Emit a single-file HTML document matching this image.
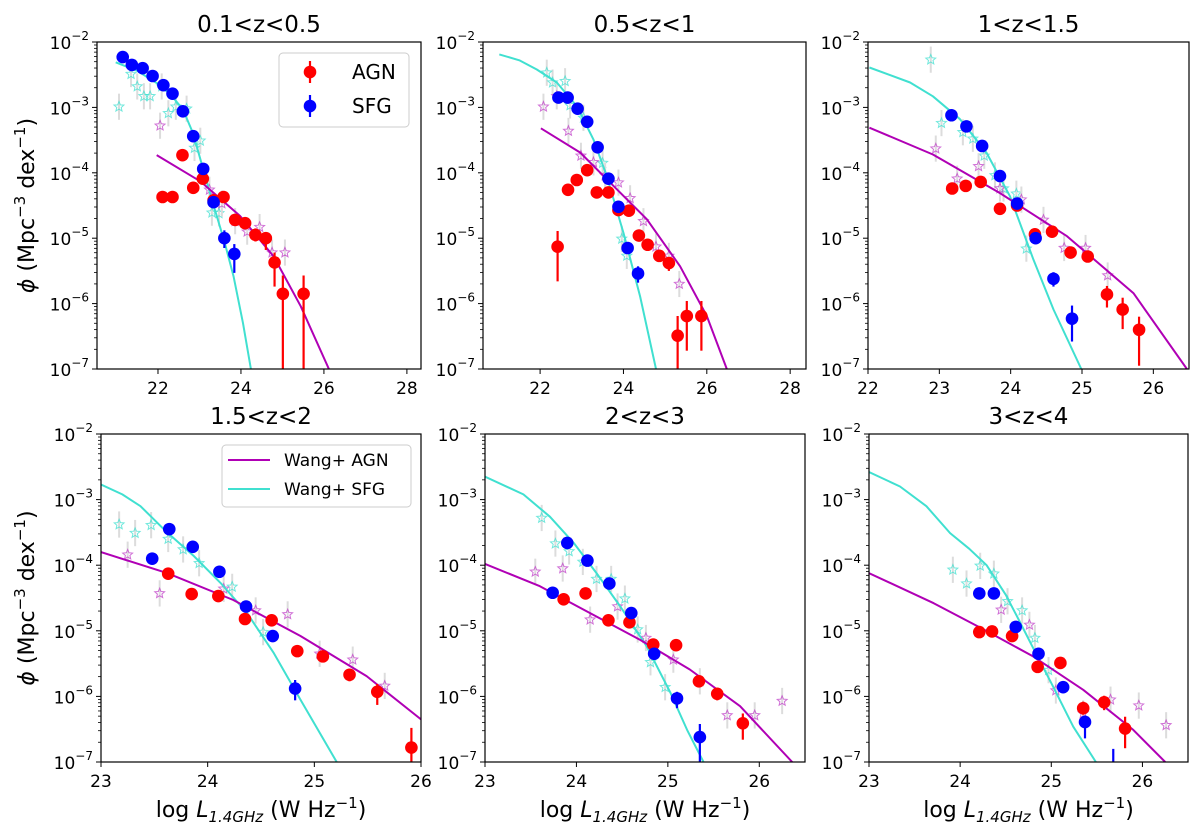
<!DOCTYPE html>
<html><head><meta charset="utf-8"><style>
html,body{margin:0;padding:0;background:#fff;}
svg{display:block;font-family:"DejaVu Sans","Liberation Sans",sans-serif;}
</style></head><body>
<svg id="fig" width="1200" height="837" viewBox="0 0 1200 837" xmlns="http://www.w3.org/2000/svg"></svg>
<script>
// ---- Data (log10 L, log10 phi) ----
const p1SfgX=[21.15,21.37,21.63,21.87,22.13,22.35,22.6,22.85,23.09,23.34,23.6,23.84];
const p1SfgY=[-2.23,-2.35,-2.40,-2.52,-2.66,-2.79,-3.06,-3.44,-3.94,-4.45,-5.0,-5.24];
const p1SfgLo=[0.05,0.05,0.05,0.05,0.05,0.05,0.05,0.05,0.05,0.05,0.15,0.29];
const p1SfgHi=[0.05,0.05,0.05,0.05,0.05,0.05,0.05,0.05,0.05,0.05,0.12,0.15];
const p1AgnX=[22.11,22.35,22.59,22.85,23.08,23.34,23.58,23.86,24.1,24.35,24.6,24.81,25.01,25.51];
const p1AgnY=[-4.37,-4.37,-3.73,-4.23,-4.09,-4.42,-4.37,-4.72,-4.77,-4.95,-5.0,-5.37,-5.85,-5.85];
const p1AgnLo=[0.06,0.05,0.05,0.05,0.05,0.05,0.05,0.08,0.05,0.1,0.18,0.37,3,3];
const p1AgnHi=[0.05,0.05,0.05,0.05,0.05,0.05,0.05,0.08,0.05,0.1,0.08,0.15,0.28,0.28];
const p1WsX=[21.06,21.35,21.5,21.66,21.81,22.09,22.25,22.43,22.69,22.88,23.02,23.3,23.47];
const p1WsY=[-2.99,-2.49,-2.68,-2.83,-2.83,-2.68,-3.09,-2.99,-3.02,-3.62,-3.51,-4.61,-4.62];
const p1WaX=[22.05,23.24,23.54,23.86,24.15,24.45,24.75,25.06];
const p1WaY=[-3.28,-4.26,-4.47,-4.74,-4.9,-4.83,-5.22,-5.22];
const p1SfgLineX=[20.98,21.5,22.0,22.3,22.6,22.85,23.1,23.34,23.6,23.82,24.05,24.24];
const p1SfgLineY=[-2.31,-2.44,-2.64,-2.8,-3.03,-3.4,-3.97,-4.5,-5.05,-5.58,-6.3,-7.0];
const p1AgnLineX=[21.97,23.02,23.98,24.79,25.44,26.12];
const p1AgnLineY=[-3.73,-4.13,-4.66,-5.28,-6.04,-7.0];

const p2SfgX=[22.44,22.66,22.9,23.13,23.38,23.64,23.88,24.1,24.35];
const p2SfgY=[-2.85,-2.85,-3.02,-3.22,-3.61,-4.09,-4.52,-5.15,-5.54];
const p2SfgLo=[0.05,0.05,0.05,0.05,0.05,0.05,0.05,0.05,0.14];
const p2SfgHi=[0.05,0.05,0.05,0.05,0.05,0.05,0.05,0.05,0.11];
const p2AgnX=[22.42,22.67,22.88,23.13,23.36,23.64,23.88,24.13,24.37,24.58,24.86,25.09,25.3,25.52,25.87];
const p2AgnY=[-5.13,-4.26,-4.11,-3.96,-4.30,-4.30,-4.57,-4.58,-4.96,-5.10,-5.27,-5.38,-6.49,-6.19,-6.19];
const p2AgnLo=[0.53,0.05,0.05,0.05,0.05,0.05,0.05,0.05,0.05,0.05,0.08,0.12,3,0.53,0.53];
const p2AgnHi=[0.24,0.05,0.05,0.05,0.05,0.05,0.05,0.05,0.05,0.05,0.05,0.05,0.3,0.23,0.23];
const p2WsX=[22.16,22.3,22.6,22.72,23.04,23.5,23.96,24.08];
const p2WsY=[-2.47,-2.62,-2.60,-2.97,-3.16,-3.85,-5.01,-5.27];
const p2WaX=[22.08,22.4,22.68,22.98,23.28,23.56,23.88,24.16,24.48,24.78,25.09,25.34];
const p2WaY=[-2.99,-2.83,-3.36,-3.74,-3.84,-4.04,-4.15,-4.39,-4.74,-5.13,-5.27,-5.70];
const p2SfgLineX=[21.02,21.5,21.92,22.4,22.88,23.28,23.6,24.0,24.4,24.78];
const p2SfgLineY=[-2.19,-2.28,-2.42,-2.62,-2.98,-3.49,-4.05,-4.92,-5.89,-7.0];
const p2AgnLineX=[22.02,22.96,23.76,24.56,25.36,26.0,26.48];
const p2AgnLineY=[-3.32,-3.69,-4.2,-4.71,-5.43,-6.19,-7.0];

const p3SfgX=[23.17,23.38,23.6,23.85,24.09,24.35,24.6,24.86];
const p3SfgY=[-3.12,-3.29,-3.59,-4.05,-4.47,-5.0,-5.62,-6.23];
const p3SfgLo=[0.05,0.05,0.05,0.05,0.05,0.05,0.12,0.35];
const p3SfgHi=[0.05,0.05,0.05,0.05,0.05,0.05,0.1,0.2];
const p3AgnX=[23.18,23.37,23.58,23.85,24.09,24.34,24.58,24.84,25.08,25.35,25.57,25.8];
const p3AgnY=[-4.24,-4.20,-4.14,-4.55,-4.50,-4.94,-4.90,-5.22,-5.28,-5.86,-6.09,-6.40];
const p3AgnLo=[0.05,0.05,0.05,0.05,0.05,0.05,0.05,0.05,0.05,0.2,0.3,0.55];
const p3AgnHi=[0.05,0.05,0.05,0.05,0.05,0.05,0.05,0.05,0.05,0.13,0.18,0.2];
const p3WsX=[22.88,23.03,23.33,23.47,23.63,23.78,23.9,24.08,24.22];
const p3WsY=[-2.27,-3.24,-3.38,-3.48,-3.74,-4.04,-4.24,-4.32,-5.16];
const p3WaX=[22.95,23.25,23.55,23.85,24.15,24.46,24.75,25.05,25.36];
const p3WaY=[-3.63,-4.09,-3.9,-4.24,-4.41,-4.72,-5.15,-5.15,-5.57];
const p3SfgLineX=[22.02,22.59,22.91,23.29,23.66,23.99,24.32,24.6,24.99];
const p3SfgLineY=[-2.39,-2.62,-2.83,-3.18,-3.69,-4.36,-5.33,-6.09,-7.0];
const p3AgnLineX=[22.02,22.91,23.85,24.79,25.72,26.47];
const p3AgnLineY=[-3.31,-3.72,-4.31,-4.97,-5.84,-7.0];

const p4SfgX=[23.48,23.64,23.86,24.11,24.36,24.61,24.82];
const p4SfgY=[-3.9,-3.45,-3.72,-4.10,-4.63,-5.08,-5.88];
const p4SfgLo=[0.05,0.05,0.05,0.05,0.05,0.05,0.18];
const p4SfgHi=[0.05,0.05,0.05,0.05,0.05,0.05,0.13];
const p4AgnX=[23.63,23.85,24.1,24.35,24.6,24.84,25.08,25.33,25.59,25.91];
const p4AgnY=[-4.13,-4.44,-4.47,-4.82,-4.84,-5.31,-5.39,-5.67,-5.93,-6.78];
const p4AgnLo=[0.05,0.05,0.05,0.05,0.05,0.05,0.05,0.1,0.2,0.22];
const p4AgnHi=[0.05,0.05,0.05,0.05,0.05,0.05,0.05,0.05,0.12,0.3];
const p4WsX=[23.17,23.32,23.47,23.63,23.77,23.92,24.23,24.52];
const p4WsY=[-3.38,-3.51,-3.39,-3.6,-3.76,-3.97,-4.33,-5.02];
const p4WaX=[23.25,23.55,24.15,24.45,24.75,25.05,25.36,25.66];
const p4WaY=[-3.84,-4.43,-4.36,-4.69,-4.75,-5.35,-5.44,-5.84];
const p4SfgLineX=[23.0,23.2,23.37,23.62,23.87,24.12,24.37,24.62,24.87,25.21];
const p4SfgLineY=[-2.77,-2.92,-3.1,-3.5,-3.86,-4.27,-4.73,-5.34,-6.05,-7.0];
const p4AgnLineX=[23.0,23.62,24.24,24.87,25.49,26.0];
const p4AgnLineY=[-3.8,-4.12,-4.53,-5.08,-5.69,-6.35];

const p5SfgX=[23.74,23.9,24.12,24.36,24.6,24.85,25.1,25.35];
const p5SfgY=[-4.42,-3.66,-3.93,-4.28,-4.73,-5.35,-6.03,-6.62];
const p5SfgLo=[0.07,0.05,0.05,0.05,0.05,0.05,0.15,1.0];
const p5SfgHi=[0.05,0.05,0.05,0.05,0.05,0.05,0.1,0.2];
const p5AgnX=[23.86,24.1,24.35,24.58,24.84,25.09,25.34,25.54,25.82];
const p5AgnY=[-4.52,-4.43,-4.84,-4.87,-5.21,-5.22,-5.77,-5.96,-6.41];
const p5AgnLo=[0.05,0.05,0.05,0.05,0.05,0.05,0.05,0.1,0.25];
const p5AgnHi=[0.05,0.05,0.05,0.05,0.05,0.05,0.05,0.08,0.15];
const p5WsX=[23.62,23.77,23.92,24.07,24.22,24.38,24.53,24.67,24.81,24.97];
const p5WsY=[-3.28,-3.67,-3.79,-3.95,-4.21,-4.21,-4.51,-4.98,-5.48,-5.86];
const p5WaX=[23.55,23.85,24.15,24.45,24.76,25.06,25.35,25.65,25.95,26.25];
const p5WaY=[-4.1,-4.05,-4.83,-4.63,-5.11,-5.44,-5.77,-6.29,-6.29,-6.07];
const p5SfgLineX=[23.0,23.42,23.71,23.97,24.22,24.48,24.77,25.03,25.21,25.39];
const p5SfgLineY=[-2.65,-2.92,-3.26,-3.66,-4.12,-4.63,-5.24,-5.95,-6.51,-7.0];
const p5AgnLineX=[23.0,23.6,24.15,24.7,25.24,25.79,26.36];
const p5AgnLineY=[-3.98,-4.32,-4.73,-5.14,-5.59,-6.15,-7.0];

const p6SfgX=[24.21,24.37,24.61,24.86,25.13,25.37,25.68];
const p6SfgY=[-4.43,-4.43,-4.94,-5.35,-5.86,-6.39,-7.3];
const p6SfgLo=[0.05,0.05,0.05,0.05,0.05,0.25,0.1];
const p6SfgHi=[0.05,0.05,0.05,0.05,0.05,0.1,0.5];
const p6AgnX=[24.21,24.35,24.57,24.85,25.1,25.35,25.58,25.81];
const p6AgnY=[-5.02,-5.01,-5.08,-5.55,-5.49,-6.18,-6.09,-6.49];
const p6AgnLo=[0.05,0.05,0.05,0.05,0.05,0.1,0.12,0.3];
const p6AgnHi=[0.05,0.05,0.05,0.05,0.05,0.1,0.1,0.18];
const p6WsX=[23.92,24.07,24.22,24.37,24.52,24.68,24.82,24.97];
const p6WsY=[-4.07,-4.28,-4.01,-4.13,-4.55,-4.69,-5.11,-5.6];
const p6WaX=[24.45,24.76,25.05,25.35,25.65,25.96,26.26];
const p6WaY=[-4.68,-4.91,-5.91,-6.26,-6.05,-6.14,-6.44];
const p6SfgLineX=[23.0,23.34,23.63,23.89,24.1,24.29,24.5,24.65,24.8,25.02,25.24,25.49];
const p6SfgLineY=[-2.58,-2.8,-3.1,-3.51,-3.75,-4.0,-4.45,-4.85,-5.26,-5.85,-6.46,-7.0];
const p6AgnLineX=[23.0,23.71,24.26,24.8,25.35,25.9,26.25];
const p6AgnLineY=[-4.12,-4.58,-4.98,-5.39,-5.9,-6.51,-7.0];

const starErr=0.2;
const titles=["0.1<z<0.5","0.5<z<1","1<z<1.5","1.5<z<2","2<z<3","3<z<4"];
const xTicks1=[22,24,26,28], xTicks3=[22,23,24,25,26], xTicksB=[23,24,25,26];
const yTicks=[-2,-3,-4,-5,-6,-7];

// ---- Layout ----
const NS="http://www.w3.org/2000/svg";
const fig=document.getElementById('fig');
function mk(tag,attrs,parent){const e=document.createElementNS(NS,tag);for(const k in attrs)e.setAttribute(k,attrs[k]);(parent||fig).appendChild(e);return e;}

const panels=[
 {l:97,r:421,t:42,b:369,x0:20.53,x1:28.34,ticks:xTicks1,d:[p1SfgX,p1SfgY,p1SfgLo,p1SfgHi,p1AgnX,p1AgnY,p1AgnLo,p1AgnHi,p1WsX,p1WsY,p1WaX,p1WaY,p1SfgLineX,p1SfgLineY,p1AgnLineX,p1AgnLineY],ylab:true},
 {l:483,r:806,t:42,b:369,x0:20.63,x1:28.38,ticks:xTicks1,d:[p2SfgX,p2SfgY,p2SfgLo,p2SfgHi,p2AgnX,p2AgnY,p2AgnLo,p2AgnHi,p2WsX,p2WsY,p2WaX,p2WaY,p2SfgLineX,p2SfgLineY,p2AgnLineX,p2AgnLineY]},
 {l:868,r:1189,t:42,b:369,x0:22,x1:26.5,ticks:xTicks3,d:[p3SfgX,p3SfgY,p3SfgLo,p3SfgHi,p3AgnX,p3AgnY,p3AgnLo,p3AgnHi,p3WsX,p3WsY,p3WaX,p3WaY,p3SfgLineX,p3SfgLineY,p3AgnLineX,p3AgnLineY]},
 {l:101,r:421,t:434,b:762,x0:23,x1:26,ticks:xTicksB,d:[p4SfgX,p4SfgY,p4SfgLo,p4SfgHi,p4AgnX,p4AgnY,p4AgnLo,p4AgnHi,p4WsX,p4WsY,p4WaX,p4WaY,p4SfgLineX,p4SfgLineY,p4AgnLineX,p4AgnLineY],ylab:true,xlab:true},
 {l:485,r:805,t:434,b:762,x0:23,x1:26.5,ticks:xTicksB,d:[p5SfgX,p5SfgY,p5SfgLo,p5SfgHi,p5AgnX,p5AgnY,p5AgnLo,p5AgnHi,p5WsX,p5WsY,p5WaX,p5WaY,p5SfgLineX,p5SfgLineY,p5AgnLineX,p5AgnLineY],xlab:true},
 {l:869,r:1188,t:434,b:762,x0:23,x1:26.5,ticks:xTicksB,d:[p6SfgX,p6SfgY,p6SfgLo,p6SfgHi,p6AgnX,p6AgnY,p6AgnLo,p6AgnHi,p6WsX,p6WsY,p6WaX,p6WaY,p6SfgLineX,p6SfgLineY,p6AgnLineX,p6AgnLineY],xlab:true}
];

function starPath(cx,cy,R){const r=R*0.45;let s='';for(let i=0;i<10;i++){const a=-Math.PI/2+i*Math.PI/5;const rr=i%2?r:R;s+=(i?'L':'M')+(cx+rr*Math.cos(a)).toFixed(1)+','+(cy+rr*Math.sin(a)).toFixed(1);}return s+'Z';}

panels.forEach((p,pi)=>{
 const g=mk('g',{});
 
 
 const X=v=>p.l+(v-p.x0)/(p.x1-p.x0)*(p.r-p.l);
 const Y=v=>p.t+(-2-v)/5*(p.b-p.t);
 const cid='clip'+pi;
 const cp=mk('clipPath',{id:cid},g);mk('rect',{x:p.l,y:p.t,width:p.r-p.l,height:p.b-p.t},cp);
 const plot=mk('g',{'clip-path':'url(#'+cid+')'},g);
 
 
 const [sx,sy,slo,shi,ax,ay,alo,ahi,wsx,wsy,wax,way,slx,sly,alx,aly]=p.d;
 const drawStars=(xs,ys,col,name)=>{xs.forEach((x,i)=>{
   const e=mk('line',{x1:X(x),x2:X(x),y1:Y(ys[i]+starErr),y2:Y(ys[i]-starErr),stroke:'#dcdcdc','stroke-width':2},plot);
   });
  xs.forEach((x,i)=>{const s=mk('path',{d:starPath(X(x),Y(ys[i]),5.2),fill:'none',stroke:col,'stroke-width':1,opacity:0.75},plot);
   });};
 drawStars(wsx,wsy,'#40e0d0','wang-sfg-star');
 drawStars(wax,way,'#c040c8','wang-agn-star');
 const line=(xs,ys,col,name)=>{const l=mk('polyline',{points:xs.map((x,i)=>X(x).toFixed(1)+','+Y(ys[i]).toFixed(1)).join(' '),fill:'none',stroke:col,'stroke-width':2,'stroke-linejoin':'round'},plot);
  };
 line(slx,sly,'#40e0d0','wang-sfg-model-line');
 line(alx,aly,'#b000b5','wang-agn-model-line');
 const pts=(xs,ys,lo,hi,col,name)=>{xs.forEach((x,i)=>{
   const e=mk('line',{x1:X(x),x2:X(x),y1:Y(ys[i]+hi[i]),y2:Y(ys[i]-lo[i]),stroke:col,'stroke-width':2.2},plot);
   
   const c=mk('circle',{cx:X(x),cy:Y(ys[i]),r:6.3,fill:col},plot);
   });};
 pts(ax,ay,alo,ahi,'#ff0000','agn');
 pts(sx,sy,slo,shi,'#0000ff','sfg');
 const fr=mk('rect',{x:p.l,y:p.t,width:p.r-p.l,height:p.b-p.t,fill:'none',stroke:'#000','stroke-width':1.2},g);
 
 yTicks.forEach(v=>{const y=Y(v);mk('line',{x1:p.l-5,x2:p.l,y1:y,y2:y,stroke:'#000','stroke-width':1},g);
  const t=mk('text',{x:p.l-8,y:y+7,'text-anchor':'end','font-size':17},g);
  
  t.appendChild(document.createTextNode('10'));const s=mk('tspan',{'font-size':12,dy:-9},t);s.textContent='−'+(-v);
  if(v>-7){for(let m=2;m<10;m++){const ym=Y(v-1+Math.log10(m));mk('line',{x1:p.l-3,x2:p.l,y1:ym,y2:ym,stroke:'#000','stroke-width':0.8},g);}}});
 p.ticks.forEach(v=>{const x=X(v);mk('line',{x1:x,x2:x,y1:p.b,y2:p.b+5,stroke:'#000','stroke-width':1},g);
  const t=mk('text',{x:x,y:p.b+25,'text-anchor':'middle','font-size':17},g);t.textContent=v;
  });
 const tt=mk('text',{x:(p.l+p.r)/2,y:p.t-10,'text-anchor':'middle','font-size':23},g);tt.textContent=titles[pi];
 
 if(p.ylab){const yl=mk('text',{transform:'translate(34,'+((p.t+p.b)/2)+') rotate(-90)','text-anchor':'middle','font-size':22},g);
  
  const a=mk('tspan',{'font-style':'italic'},yl);a.textContent='ϕ';
  const b=mk('tspan',{},yl);b.textContent=' (Mpc';const c=mk('tspan',{'font-size':15,dy:-9},yl);c.textContent='−3';
  const d=mk('tspan',{dy:9},yl);d.textContent=' dex';const e=mk('tspan',{'font-size':15,dy:-9},yl);e.textContent='−1';
  const f=mk('tspan',{dy:9},yl);f.textContent=')';}
 if(p.xlab){const xl=mk('text',{x:(p.l+p.r)/2,y:817,'text-anchor':'middle','font-size':22},g);
  
  const a=mk('tspan',{},xl);a.textContent='log ';const b=mk('tspan',{'font-style':'italic'},xl);b.textContent='L';
  const c=mk('tspan',{'font-size':15,dy:5,'font-style':'italic'},xl);c.textContent='1.4GHz';
  const d=mk('tspan',{dy:-5},xl);d.textContent=' (W Hz';const e=mk('tspan',{'font-size':15,dy:-9},xl);e.textContent='−1';
  const f=mk('tspan',{dy:9},xl);f.textContent=')';}
});

const lg1=mk('g',{});
mk('rect',{x:279,y:53,width:130,height:74,rx:4,fill:'#fff',stroke:'#ccc','stroke-width':1},lg1);
[['AGN','#ff0000',72],['SFG','#0000ff',106]].forEach(([n,c,y])=>{
 const e=mk('g',{},lg1);
 mk('line',{x1:310,x2:310,y1:y-11,y2:y+11,stroke:c,'stroke-width':2.2},e);mk('circle',{cx:310,cy:y,r:6.3,fill:c},e);
 const t=mk('text',{x:352,y:y+7,'font-size':20},e);t.textContent=n;});
const lg2=mk('g',{});
mk('rect',{x:222,y:445,width:189,height:62,rx:4,fill:'#fff',stroke:'#ccc','stroke-width':1},lg2);
[['Wang+ AGN','#b000b5',460],['Wang+ SFG','#40e0d0',489]].forEach(([n,c,y])=>{
 const e=mk('g',{},lg2);
 mk('line',{x1:228,x2:270,y1:y,y2:y,stroke:c,'stroke-width':2},e);
 const t=mk('text',{x:284,y:y+6,'font-size':17},e);t.textContent=n;});
</script>
</body></html>
